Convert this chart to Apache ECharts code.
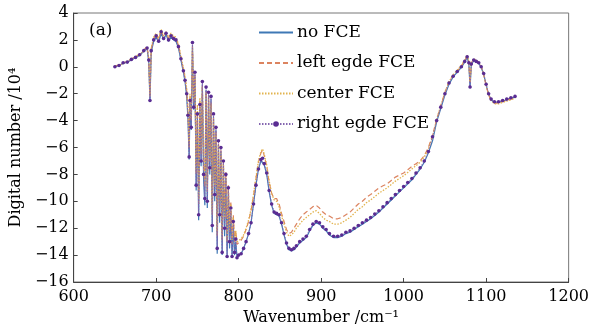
<!DOCTYPE html>
<html>
<head>
<meta charset="utf-8">
<script src="https://cdn.jsdelivr.net/npm/echarts@6/dist/echarts.min.js"></script>
<style>html,body{margin:0;padding:0;background:#fff}#c{width:592px;height:331px}</style>
</head>
<body>
<div id="c"></div>
<script>
// Wavenumber sample positions (cm^-1)
var wavenumber = [
  650,655,660,665,670,675,680,685,689,
  691,692.5,694,697,700,703,706,709,712,715,718,721,724,727,730,733,
  735,737,738.5,740,741,742.5,744,745.5,747,748.5,750,751.5,753,754.5,756,757.5,759,760.5,762,763.5,765,766.5,768,769.5,771,772.5,774,775.5,777,778.5,780,781.5,783,784.5,786,787.5,789,790.5,792,793.5,795,796.5,798,800,
  803,806,809,812,815,818,821,824,827,829,831,834,837,840,843,846,849,852,855,858,861,864,867,870,874,878,882,886,890,894,898,902,906,910,915,920,925,
  930,935,940,945,950,955,960,965,970,975,980,985,990,995,1000,1005,1010,1015,1020,1025,1030,1035,1040,
  1045,1050,1055,1060,1065,1070,1074,1077,1079,1080.5,1082,1085,1088,1091,1094,1097,1100,1103,1106,1110,1115,1120,1125,1130,1135
];
// Digital number (x10^4)
var noFCE = [
  0.0,0.1,0.25,0.35,0.5,0.7,0.85,1.15,1.35,
  0.4,-2.6,1.1,1.9,2.2,1.8,2.5,2.0,2.4,1.9,2.2,2.0,1.9,1.4,0.5,-0.4,
  -1.1,-2.2,-3.8,-6.9,-2.7,-4.7,1.6,-3.2,-0.6,-9.2,-3.7,-11.4,-3.0,-7.4,-1.3,-8.4,-10.3,-1.7,-10.5,-2.1,-8.0,-2.4,-12.3,-3.7,-10.0,-4.7,-13.9,-5.8,-11.6,-6.3,-14.0,-7.3,-12.6,-8.3,-14.2,-9.3,-13.5,-10.8,-14.2,-11.8,-14.0,-13.0,-14.2,-14.0,
  -13.9,-13.5,-13.0,-12.4,-11.6,-10.2,-8.8,-7.6,-7.0,-6.9,-7.3,-8.0,-9.3,-10.3,-10.9,-11.0,-11.1,-11.7,-12.5,-13.2,-13.6,-13.7,-13.6,-13.4,-13.1,-12.9,-12.7,-12.2,-11.8,-11.6,-11.7,-12.0,-12.2,-12.5,-12.7,-12.7,-12.6,
  -12.4,-12.3,-12.1,-11.9,-11.7,-11.5,-11.3,-11.05,-10.8,-10.5,-10.2,-9.9,-9.6,-9.3,-9.0,-8.7,-8.4,-8.0,-7.6,-7.1,-6.4,-5.5,-4.1,
  -3.1,-2.1,-1.3,-0.75,-0.4,-0.05,0.35,0.7,0.25,-1.6,0.15,0.45,0.35,0.25,-0.05,-0.55,-1.35,-2.05,-2.45,-2.65,-2.65,-2.55,-2.45,-2.35,-2.25
];
var leftEdgeFCE = [
  0.05,0.15,0.3,0.4,0.6,0.75,0.95,1.25,1.5,
  0.6,-2.2,1.3,2.1,2.4,2.0,2.7,2.2,2.6,2.1,2.4,2.2,2.1,1.6,0.7,-0.2,
  -0.8,-1.8,-3.2,-6.0,-2.2,-4.0,1.5,-2.6,-0.6,-8.0,-3.0,-10.2,-2.5,-6.5,-1.3,-7.4,-9.0,-1.8,-9.3,-2.2,-7.0,-2.6,-11.0,-3.8,-9.0,-4.8,-12.6,-5.6,-10.5,-6.2,-12.9,-7.0,-11.4,-7.8,-13.1,-8.8,-12.3,-10.0,-13.2,-11.0,-13.0,-12.2,-13.2,-13.1,
  -12.9,-12.6,-12.1,-11.5,-10.7,-9.6,-8.3,-7.1,-6.4,-6.2,-6.6,-7.4,-8.6,-9.4,-9.8,-9.8,-10.2,-10.9,-11.5,-12.1,-12.4,-12.3,-12.0,-11.7,-11.3,-11.0,-10.8,-10.6,-10.4,-10.3,-10.5,-10.8,-11.0,-11.1,-11.3,-11.3,-11.2,
  -11.0,-10.8,-10.5,-10.2,-10.0,-9.7,-9.5,-9.25,-9.0,-8.85,-8.7,-8.45,-8.2,-8.05,-7.9,-7.65,-7.4,-7.2,-7.0,-6.6,-6.0,-5.1,-3.9,
  -2.9,-1.9,-1.1,-0.6,-0.3,0.05,0.45,0.8,0.4,-1.2,0.3,0.55,0.45,0.3,0.0,-0.6,-1.4,-2.1,-2.5,-2.7,-2.7,-2.6,-2.5,-2.4,-2.3
];
var centerFCE = [
  0.05,0.1,0.25,0.4,0.55,0.75,0.9,1.2,1.45,
  0.7,-2.0,1.4,2.2,2.5,2.1,2.8,2.3,2.6,2.2,2.5,2.3,2.2,1.7,0.8,-0.1,
  -0.7,-1.6,-3.0,-5.6,-2.0,-3.8,1.3,-2.4,-0.8,-7.6,-2.8,-9.8,-2.3,-6.2,-1.5,-7.0,-8.6,-2.0,-9.0,-2.4,-6.8,-2.8,-10.6,-4.0,-8.8,-5.0,-12.2,-5.8,-10.2,-6.4,-12.5,-7.2,-11.2,-8.0,-12.8,-9.0,-12.1,-10.2,-12.9,-11.2,-12.8,-12.2,-13.0,-13.0,
  -12.8,-12.5,-12.0,-11.4,-10.6,-9.5,-8.2,-7.0,-6.3,-6.1,-6.5,-7.3,-8.5,-9.4,-9.9,-10.0,-10.4,-11.1,-11.7,-12.3,-12.6,-12.5,-12.3,-12.0,-11.7,-11.4,-11.2,-11.0,-10.8,-10.7,-10.9,-11.2,-11.4,-11.5,-11.7,-11.7,-11.6,
  -11.4,-11.2,-10.9,-10.6,-10.4,-10.1,-9.9,-9.65,-9.4,-9.2,-9.0,-8.75,-8.5,-8.3,-8.1,-7.85,-7.6,-7.35,-7.1,-6.7,-6.1,-5.2,-3.9,
  -2.9,-1.9,-1.1,-0.6,-0.25,0.1,0.5,0.85,0.45,-1.1,0.35,0.6,0.5,0.35,0.05,-0.55,-1.35,-2.05,-2.5,-2.75,-2.75,-2.65,-2.55,-2.45,-2.35
];
var rightEdgeFCE = [
  0.0,0.1,0.3,0.35,0.55,0.7,0.9,1.2,1.4,
  0.5,-2.5,1.2,2.0,2.3,1.9,2.6,2.1,2.5,2.0,2.3,2.1,2.0,1.5,0.6,-0.3,
  -1.0,-2.0,-3.6,-6.7,-2.5,-4.5,1.8,-3.0,-0.4,-8.8,-3.5,-11.0,-2.8,-7.0,-1.1,-8.0,-9.8,-1.5,-10.0,-1.9,-7.5,-2.2,-11.8,-3.5,-9.5,-4.5,-13.5,-5.5,-11.0,-6.0,-13.8,-7.0,-12.0,-8.0,-14.1,-9.0,-13.0,-10.5,-14.1,-11.5,-13.8,-12.8,-14.2,-14.0,
  -13.9,-13.5,-13.0,-12.4,-11.6,-10.2,-8.8,-7.6,-6.9,-6.8,-7.2,-7.9,-9.2,-10.2,-10.8,-10.9,-11.0,-11.6,-12.4,-13.1,-13.5,-13.6,-13.5,-13.3,-13.0,-12.8,-12.6,-12.1,-11.7,-11.5,-11.6,-11.9,-12.1,-12.4,-12.6,-12.6,-12.5,
  -12.3,-12.2,-12.0,-11.8,-11.6,-11.4,-11.2,-10.95,-10.7,-10.4,-10.1,-9.8,-9.5,-9.2,-8.9,-8.6,-8.3,-7.9,-7.5,-7.0,-6.3,-5.2,-4.0,
  -3.0,-2.0,-1.2,-0.7,-0.35,0.0,0.4,0.75,0.3,-1.5,0.2,0.5,0.4,0.3,0.0,-0.5,-1.3,-2.0,-2.4,-2.6,-2.6,-2.5,-2.4,-2.3,-2.2
];
var seriesNames = ['no FCE', 'left egde FCE', 'center FCE', 'right egde FCE'];
var xTicks = [600, 700, 800, 900, 1000, 1100, 1200];
var yTicks = [-16, -14, -12, -10, -8, -6, -4, -2, 0, 2, 4];

function zip(ys) {
  var out = [];
  for (var i = 0; i < wavenumber.length && i < ys.length; i++) out.push([wavenumber[i], ys[i]]);
  return out;
}
var FONT = 'DejaVu Serif';
function minus(v) { return String(v).replace('-', '\u2212'); }

var chart = echarts.init(document.getElementById('c'), null, {renderer: 'canvas'});
chart.setOption({
  animation: false,
  backgroundColor: '#fff',
  grid: {left: 73, right: 22, top: 13, bottom: 49, show: true, borderColor: '#777', borderWidth: 1},
  graphic: [{type: 'text', left: 89, top: 22, style: {text: '(a)', font: '17px "DejaVu Serif"', fill: '#000'}}],
  legend: {
    data: [
      {name: seriesNames[0], itemStyle: {opacity: 0}},
      {name: seriesNames[1], itemStyle: {opacity: 0}},
      {name: seriesNames[2], itemStyle: {opacity: 0}},
      {name: seriesNames[3]}
    ],
    orient: 'vertical', left: 258, top: 24, padding: 0,
    itemWidth: 34, itemHeight: 7, itemGap: 13.5,
    textStyle: {fontFamily: FONT, fontSize: 17, color: '#000', padding: [0, 0, 0, -1]}
  },
  xAxis: {
    type: 'value', min: xTicks[0], max: xTicks[xTicks.length - 1], interval: 100,
    name: 'Wavenumber /cm\u207B\u00B9', nameLocation: 'middle', nameGap: 26,
    nameTextStyle: {fontFamily: FONT, fontSize: 16, color: '#000'},
    axisLine: {onZero: false, lineStyle: {color: '#444', width: 1}},
    axisTick: {inside: true, length: 4, lineStyle: {color: '#444'}},
    axisLabel: {fontFamily: FONT, fontSize: 16, color: '#000', margin: 7, formatter: function (v) { return String(v); }},
    splitLine: {show: false}
  },
  yAxis: {
    type: 'value', min: yTicks[0], max: yTicks[yTicks.length - 1], interval: 2,
    name: 'Digital number /10\u2074', nameLocation: 'middle', nameGap: 45,
    nameTextStyle: {fontFamily: FONT, fontSize: 16, color: '#000'},
    axisLine: {onZero: false, lineStyle: {color: '#444', width: 1}},
    axisTick: {inside: true, length: 4, lineStyle: {color: '#444'}},
    axisLabel: {fontFamily: FONT, fontSize: 16, color: '#000', margin: 5, formatter: minus},
    splitLine: {show: false}
  },
  series: [
    {name: seriesNames[0], type: 'line', data: zip(noFCE), symbol: 'none',
     lineStyle: {color: '#3f78b5', width: 1.2}, itemStyle: {color: '#3f78b5'}},
    {name: seriesNames[1], type: 'line', data: zip(leftEdgeFCE), symbol: 'none',
     lineStyle: {color: '#dc8460', width: 1.2, type: [5, 3]}, itemStyle: {color: '#dc8460'}},
    {name: seriesNames[2], type: 'line', data: zip(centerFCE), symbol: 'none',
     lineStyle: {color: '#e2b34e', width: 1.3, type: [1.5, 1.5]}, itemStyle: {color: '#e2b34e'}},
    {name: seriesNames[3], type: 'line', data: zip(rightEdgeFCE), symbol: 'circle', symbolSize: 3.6, showAllSymbol: true,
     lineStyle: {color: '#8466b0', width: 1, type: [1.5, 1.5]}, itemStyle: {color: '#5a2c92'}}
  ]
});
</script>
</body>
</html>
